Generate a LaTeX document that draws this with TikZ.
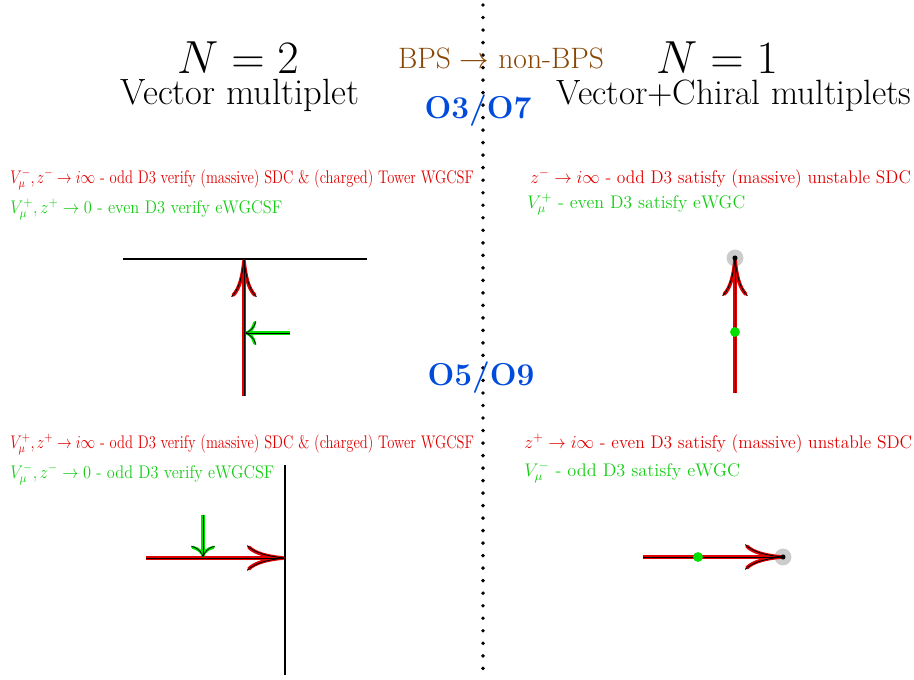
\RequirePackage{fix-cm}
\documentclass[tikz,border=0pt]{standalone}
\usepackage{graphicx}
\usetikzlibrary{arrows.meta}
\definecolor{flowred}{RGB}{225,0,0}
\definecolor{flowgreen}{RGB}{0,225,0}
\definecolor{textgreen}{RGB}{20,205,20}
\definecolor{bpsbrown}{RGB}{135,70,5}
\definecolor{orientblue}{RGB}{0,75,220}
\newcommand{\squeeze}[2][0.8]{\scalebox{#1}[1]{#2}}

\begin{document}
\begin{tikzpicture}[x=0.025cm, y=-0.025cm,
  redarrow/.style={draw=black, line width=0.6pt, -{To[length=27pt,width=18pt]}, preaction={draw=flowred, line width=2.6pt, -{To[length=27pt,width=18pt]}}},
  greenarrow/.style={draw=black, line width=0.5pt, -{To[length=8pt,width=17pt]}, preaction={draw=flowgreen, line width=2.2pt, -{To[length=8pt,width=17pt]}}},
  redtext/.style={anchor=base west, inner sep=0pt, text=flowred, font=\fontsize{13}{16}\selectfont},
  greentext/.style={anchor=base west, inner sep=0pt, text=textgreen, font=\fontsize{13}{16}\selectfont}]
\useasboundingbox (0,0) rectangle (914,679);
\draw[line width=2.8pt, line cap=round, dash pattern=on 0pt off 8.9pt] (483,5) -- (483,679);
% headers
\node[anchor=base, inner sep=0pt, font=\fontsize{33}{36}\selectfont] (n2) at (238,73) {$N=2$};
\node[anchor=base, inner sep=0pt, font=\fontsize{26}{30}\selectfont] (vm) at (240,104) {Vector multiplet};
\node[anchor=base, inner sep=0pt, font=\fontsize{33}{36}\selectfont] (n1) at (717,73) {$N=1$};
\node[anchor=base, inner sep=0pt, font=\fontsize{25}{30}\selectfont] (vcm) at (734,104) {Vector+Chiral multiplets};
\node[anchor=base, inner sep=0pt, text=bpsbrown, font=\fontsize{21}{25}\selectfont] (bps) at (501,68) {BPS $\rightarrow$ non-BPS};
\node[anchor=base, inner sep=0pt, text=orientblue, font=\fontsize{22.5}{26}\selectfont\bfseries] (o37) at (478,118) {O3/O7};
\node[anchor=base, inner sep=0pt, text=orientblue, font=\fontsize{22.5}{26}\selectfont\bfseries] (o59) at (481,385) {O5/O9};
% O3/O7 texts
\node[redtext] (tl1) at (10,183) {\squeeze{$V_\mu^-,z^-\rightarrow i\infty$ - odd D3 verify (massive) SDC \& (charged) Tower WGCSF}};
\node[greentext] (tl2) at (10,213) {\squeeze[0.9]{$V_\mu^+,z^+\rightarrow 0$ - even D3 verify eWGCSF}};
\node[redtext] (tr1) at (530,183) {\squeeze[0.955]{$z^-\rightarrow i\infty$ - odd D3 satisfy (massive) unstable SDC}};
\node[greentext] (tr2) at (527,208) {\squeeze[0.985]{$V_\mu^+$ - even D3 satisfy eWGC}};
% O5/O9 texts
\node[redtext] (bl1) at (10,448) {\squeeze{$V_\mu^+,z^+\rightarrow i\infty$ - odd D3 verify (massive) SDC \& (charged) Tower WGCSF}};
\node[greentext] (bl2) at (10,478) {\squeeze[0.89]{$V_\mu^-,z^-\rightarrow 0$ - odd D3 verify eWGCSF}};
\node[redtext] (br1) at (524,448) {\squeeze[0.96]{$z^+\rightarrow i\infty$ - even D3 satisfy (massive) unstable SDC}};
\node[greentext] (br2) at (524,476) {$V_\mu^-$ - odd D3 satisfy eWGC};
% top left flow
\coordinate (wl) at (123,259);
\coordinate (wr) at (367,259);
\coordinate (tls) at (244,396);
\coordinate (tle) at (244,259);
\coordinate (tlg) at (290,333);
\coordinate (tlh) at (245,333);
\draw[line width=0.9pt] (wl) -- (wr);
\draw[redarrow] (tls) -- (tle);
\draw[greenarrow] (tlg) -- (tlh);
% top right flow
\coordinate (trs) at (735,393);
\node[circle, fill=black!20, minimum size=12pt, inner sep=0pt] (trp) at (735,258) {};
\draw[redarrow] (trs) -- (trp.center);
\fill (trp) circle (1.8pt);
\node[circle, fill=flowgreen, minimum size=7pt, inner sep=0pt] (trg) at (735,332) {};
% bottom left flow
\coordinate (wt) at (285,465);
\coordinate (wb) at (285,675);
\coordinate (bls) at (146,558);
\coordinate (ble) at (285,558);
\coordinate (blg) at (203,515);
\coordinate (blh) at (203,557);
\draw[line width=0.9pt] (wt) -- (wb);
\draw[redarrow] (bls) -- (ble);
\draw[greenarrow] (blg) -- (blh);
% bottom right flow
\coordinate (brs) at (643,557);
\node[circle, fill=black!20, minimum size=12pt, inner sep=0pt] (brp) at (783,557) {};
\draw[redarrow] (brs) -- (brp.center);
\fill (brp) circle (1.8pt);
\node[circle, fill=flowgreen, minimum size=7pt, inner sep=0pt] (brg) at (698,557) {};
\end{tikzpicture}
\end{document}
